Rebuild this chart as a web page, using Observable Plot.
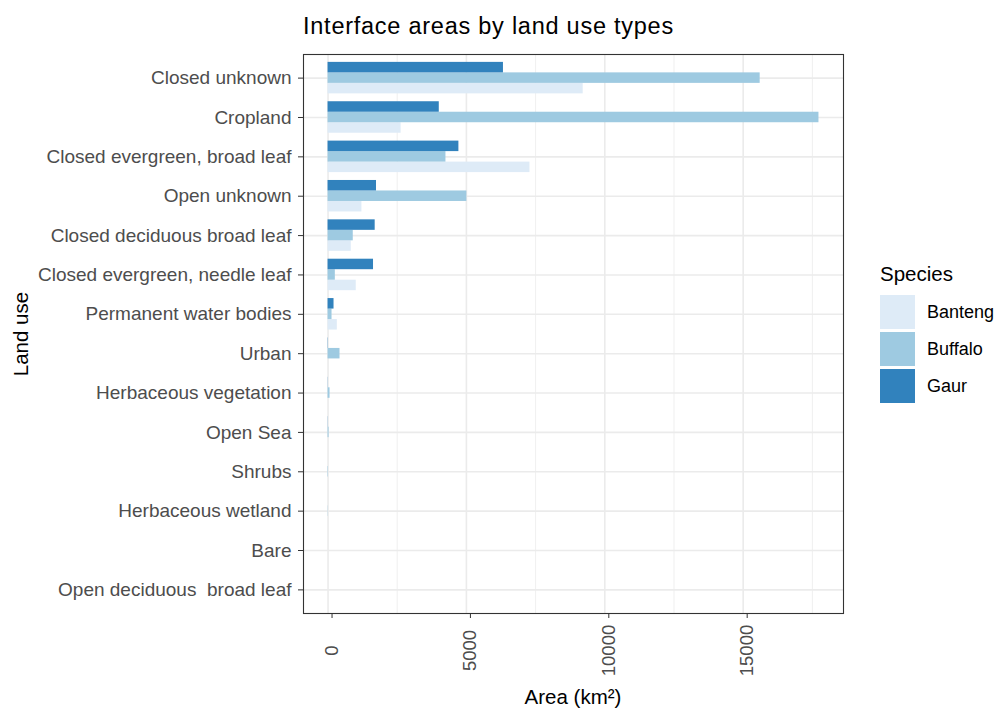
<!DOCTYPE html>
<html><head><meta charset="utf-8">
<script src="https://cdn.jsdelivr.net/npm/d3@7"></script>
<script src="https://cdn.jsdelivr.net/npm/@observablehq/plot@0.6"></script>
<style>
body{margin:0;background:#fff;font-family:"Liberation Sans",Arial,sans-serif;}
#wrap{position:relative;width:996px;height:708px;overflow:hidden;}
#wrap svg{position:absolute;left:0;top:0;}
.t{position:absolute;white-space:nowrap;line-height:1;color:#000;}
</style></head><body><div id="wrap"></div>
<script>
const landUse = ["Closed unknown","Cropland","Closed evergreen, broad leaf","Open unknown",
  "Closed deciduous broad leaf","Closed evergreen, needle leaf","Permanent water bodies","Urban",
  "Herbaceous vegetation","Open Sea","Shrubs","Herbaceous wetland","Bare","Open deciduous  broad leaf"];
const species = ["Banteng","Buffalo","Gaur"];
const speciesColors = ["#DEEBF7","#9ECAE1","#3182BD"];
const banteng = [9219, 2640, 7296, 1224, 839, 1019, 335, 0, 0, 0, 0, 0, 0, 0];
const buffalo = [15614, 17738, 4260, 5016, 911, 263, 144, 432, 72, 36, 15, 8, 0, 0];
const gaur    = [6338, 4019, 4728, 1751, 1703, 1643, 216, 10, 6, 6, 0, 0, 0, 0];
const xTicks = [0, 5000, 10000, 15000];
const xMinorTicks = [2500, 7500, 12500, 17500];
const title = "Interface areas by land use types";
const xTitle = "Area (km²)";
const yTitle = "Land use";
const legendTitle = "Species";

const series = {Banteng: banteng, Buffalo: buffalo, Gaur: gaur};
const rows = species.flatMap(s => landUse.map((l, i) => ({landUse: l, species: s, value: series[s][i]})));

const W = 996, H = 708, mt = 54, mb = 95, ml = 303, mr = 153;
const maxV = d3.max(rows, d => d.value);
const yOpts = {type: "band", domain: landUse, paddingInner: 0.2, paddingOuter: 0.2, round: false};
const bw = Plot.scale({y: {...yOpts, range: [mt, H - mb]}}).bandwidth;
const part = bw / 3;
const insets = {Gaur: [0, 2 * part], Buffalo: [part, part], Banteng: [2 * part, 0]};

const grid = "#EBEBEB";
const chart = Plot.plot({
  width: W, height: H,
  marginTop: mt, marginBottom: mb, marginLeft: ml, marginRight: mr,
  style: {fontFamily: "Liberation Sans, Arial, sans-serif", background: "#fff"},
  x: {domain: [-0.05 * maxV, 1.05 * maxV], label: null},
  y: {...yOpts, label: null},
  color: {domain: species, range: speciesColors},
  marks: [
    Plot.gridX(xMinorTicks, {stroke: grid, strokeOpacity: 1, strokeWidth: 0.8}),
    Plot.gridX(xTicks, {stroke: grid, strokeOpacity: 1, strokeWidth: 1.6}),
    Plot.gridY({stroke: grid, strokeOpacity: 1, strokeWidth: 1.6}),
    ...species.map(s => Plot.barX(rows.filter(d => d.species === s), {
      x: "value", y: "landUse", fill: "species",
      insetTop: insets[s][0], insetBottom: insets[s][1]
    })),
    Plot.frame({stroke: "#333", strokeWidth: 1.1}),
    Plot.axisY({tickSize: 5, tickPadding: 7, fontSize: 19, color: "#333", fill: "#4D4D4D", label: null}),
    Plot.axisX(xTicks, {tickSize: 5, tickRotate: -90, textAnchor: "middle", lineAnchor: "middle",
      tickPadding: 32, dx: 4, fontSize: 18.5, color: "#333", fill: "#4D4D4D", label: null,
      tickFormat: d => String(d)})
  ]
});
const wrap = document.getElementById("wrap");
wrap.appendChild(chart);

function addText(txt, css) {
  const d = document.createElement("div");
  d.className = "t";
  d.textContent = txt;
  Object.assign(d.style, css);
  wrap.appendChild(d);
  return d;
}
addText(title, {left: "303px", top: "15px", fontSize: "23.5px", letterSpacing: "0.75px"});
addText(xTitle, {left: (ml + (W - mr - ml) / 2) + "px", top: "697px", fontSize: "20.5px", transform: "translate(-50%,-50%)"});
addText(yTitle, {left: "21px", top: (mt + (H - mb - mt) / 2) + "px", fontSize: "20.5px", transform: "translate(-50%,-50%) rotate(-90deg)"});
addText(legendTitle, {left: "880px", top: "264px", fontSize: "20.5px"});
const color = chart.scale("color");
species.forEach((s, i) => {
  const top = 295 + i * 37;
  const sw = document.createElement("div");
  Object.assign(sw.style, {position: "absolute", left: "880px", top: top + "px", width: "35px", height: "34px", background: color.apply(s)});
  wrap.appendChild(sw);
  addText(s, {left: "927px", top: (top + 17) + "px", fontSize: "18px", transform: "translateY(-50%)"});
});
</script></body></html>
